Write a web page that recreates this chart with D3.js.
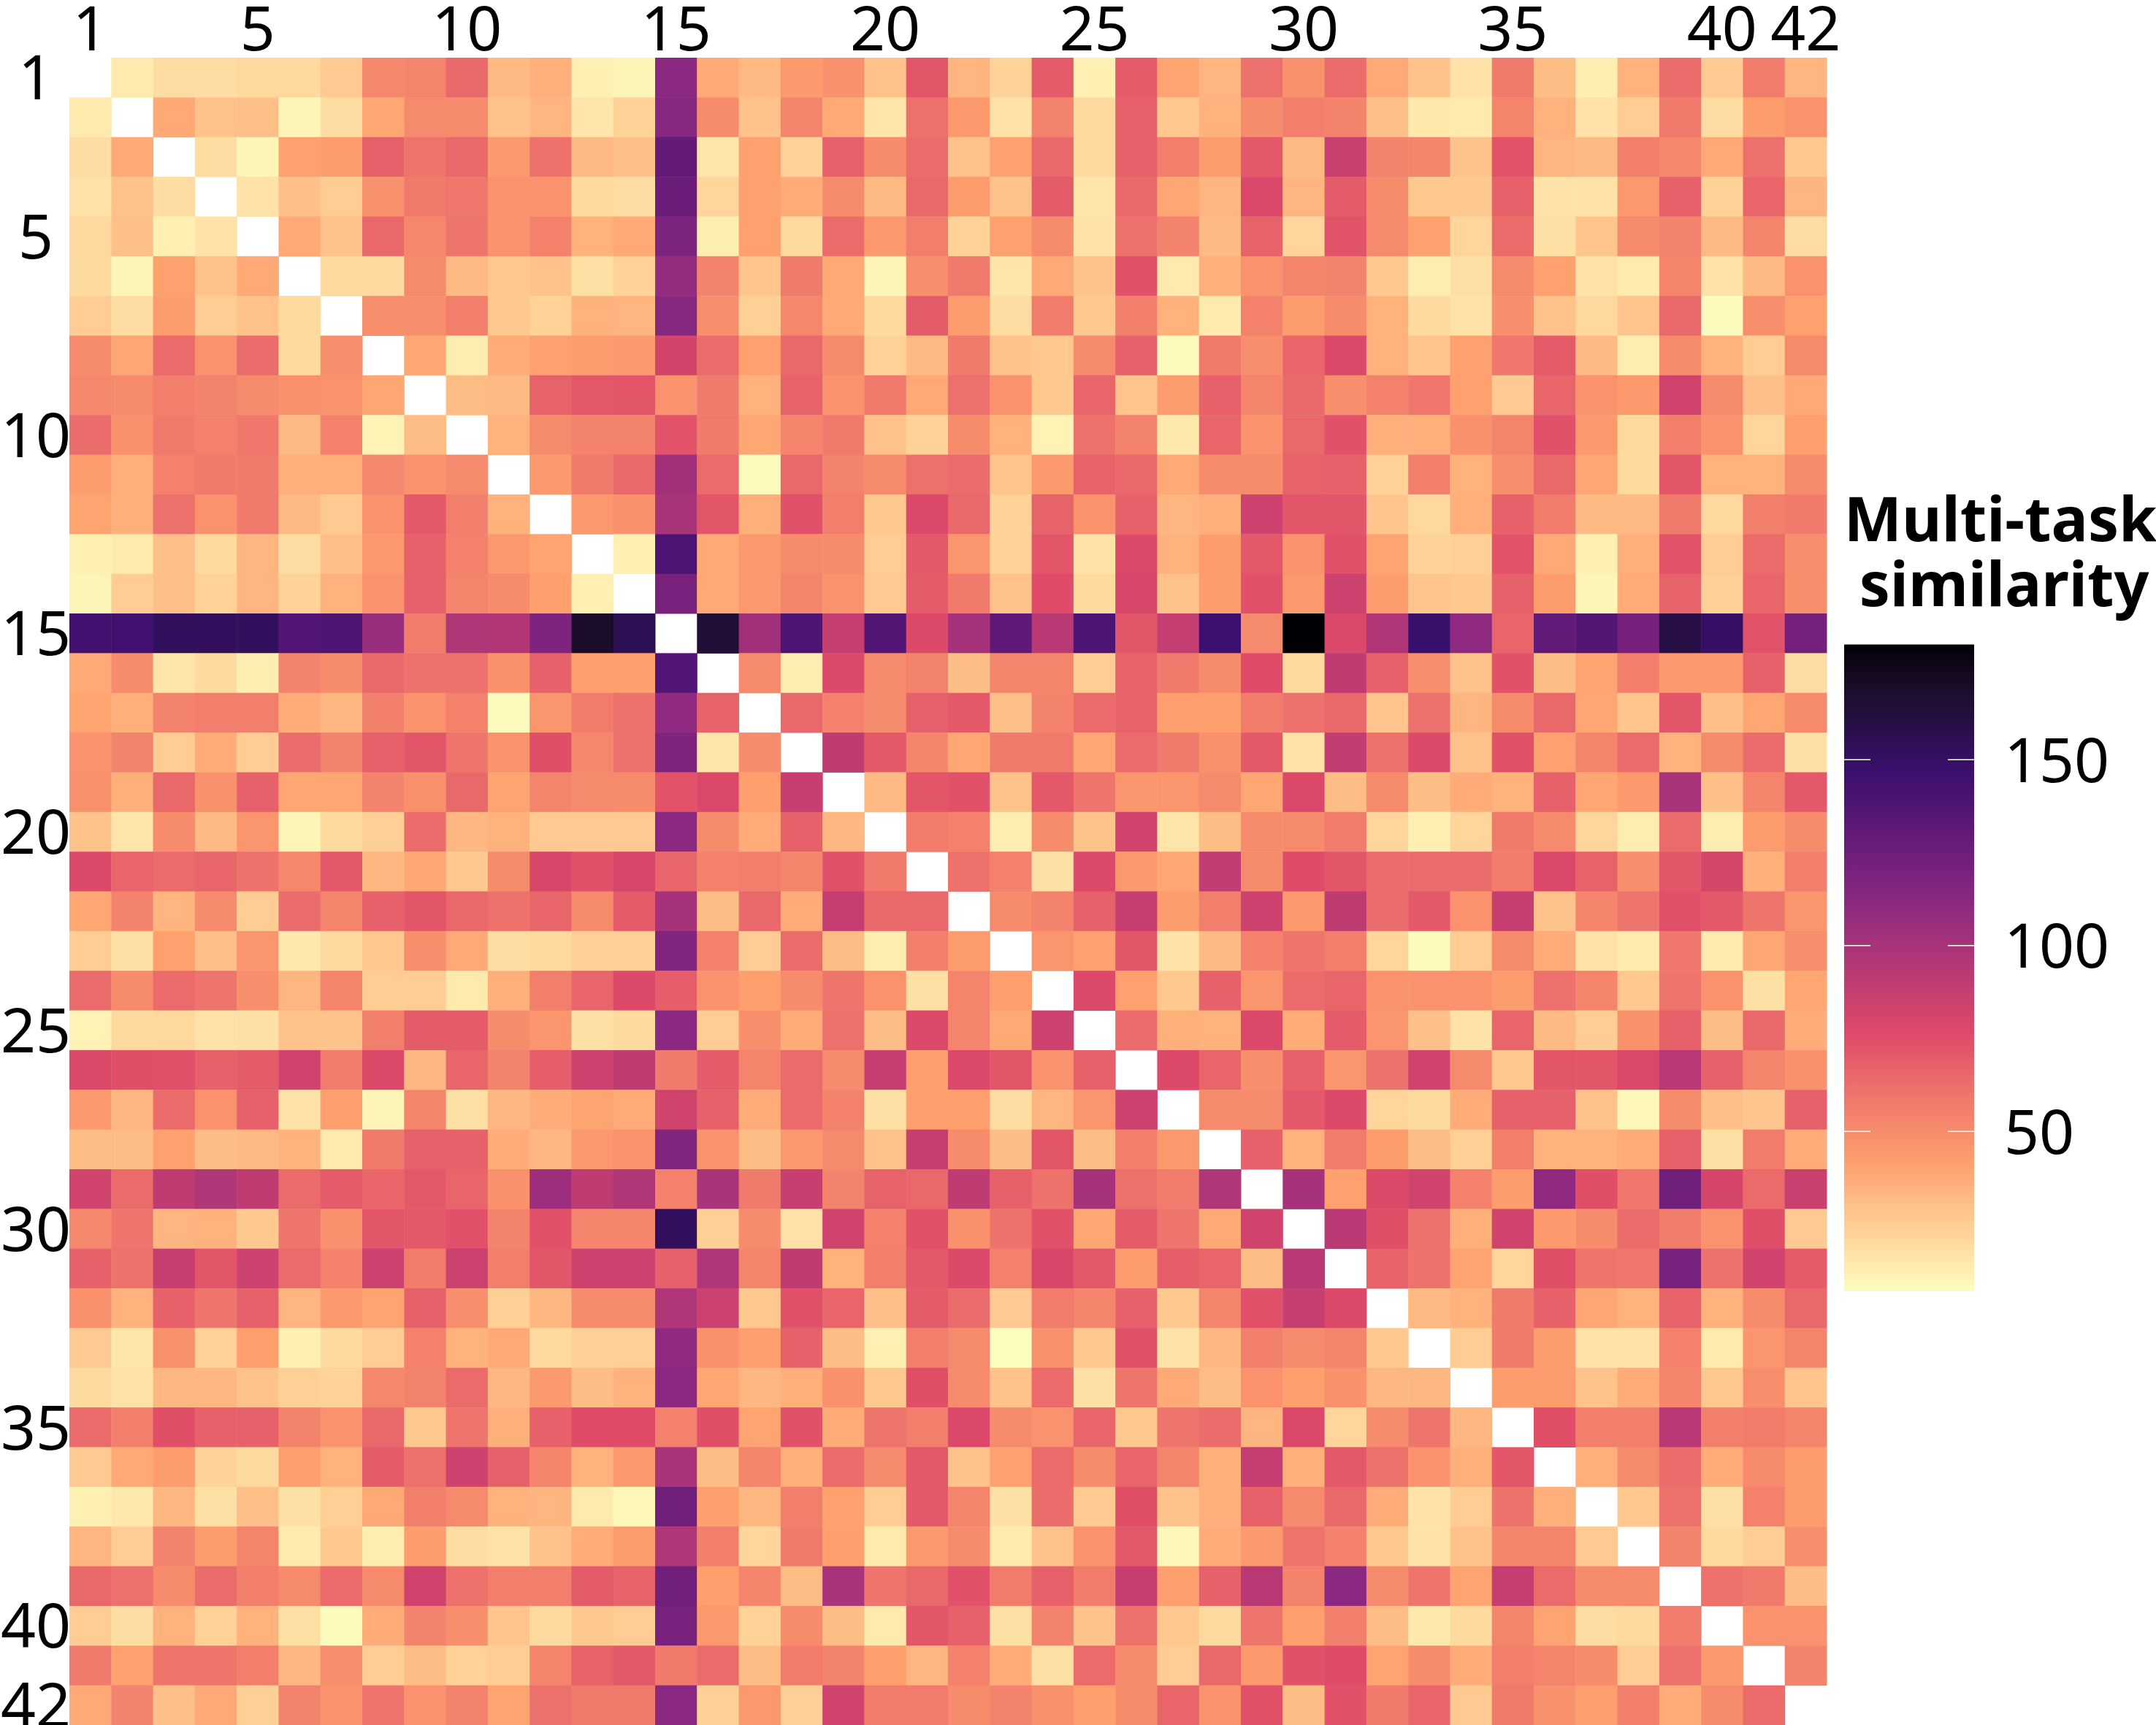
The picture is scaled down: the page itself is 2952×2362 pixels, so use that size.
<html>

<head>
    <style>
        body { margin: 0; background: white; }
        text { font-family: "Noto Sans", sans-serif; fill: black; }
        .tick text { font-size: 84px; }
        .legendTitle { font-size: 84px; font-weight: 700; text-anchor: middle; }
    </style>
</head>

<body>
    <script src="https://d3js.org/d3.v7.min.js"></script>
    <script>
        var width = 2952, height = 2362;

        var tasks = d3.range(1, 43);
        var tickLabels = [1, 5, 10, 15, 20, 25, 30, 35, 40, 42];
        var legendTicks = [50, 100, 150];
        var legendRange = [7, 181];
        // six magma stops, light to dark
        var palette = ["#FCFDBF", "#FE9F6D", "#DE4968", "#8C2981", "#3B0F70", "#000004"];

        // task 15 stands out, its row and its column are kept on their own
        var row15 = [144,144,152,152,152,137,139,106,57,97,95,117,169,155,null,165,103,139,88,136,77,101,131,93,139,72,88,146,51,181,78,96,148,110,66,130,136,121,159,149,73,122];
        var col15 = [112,114,129,126,118,108,114,82,47,73,103,99,139,120,null,137,110,117,73,112,66,101,116,69,112,58,83,116,55,152,68,97,110,112,55,99,124,97,124,120,58,112];

        // right of the diagonal, one line per task (task 15 skipped)
        var upper = [
            [14,19,19,21,21,26,52,53,65,32,36,12,10,38,32,44,48,29,72,34,23,70,12,70,40,34,62,48,64,38,29,17,58,31,13,35,63,26,57,34],
            [38,29,30,10,19,39,51,51,29,34,16,23,50,29,53,38,16,62,44,17,54,20,68,27,35,50,56,54,30,15,14,53,35,17,25,58,19,43,47],
            [19,10,41,43,68,60,65,44,61,32,30,16,41,23,68,50,63,29,41,65,20,68,56,43,71,32,86,54,53,29,73,34,32,56,52,38,62,27],
            [17,30,25,48,58,59,47,47,20,19,22,41,37,50,32,65,43,29,70,16,65,39,34,78,34,70,50,27,27,68,17,17,45,68,23,66,34],
            [38,29,65,52,60,47,55,35,38,13,41,20,64,45,56,23,41,50,17,62,54,32,67,22,73,51,41,22,63,18,28,50,54,32,53,19],
            [20,20,51,32,27,29,18,23,54,28,58,38,10,49,58,16,38,29,74,14,36,47,53,54,27,13,18,51,41,17,14,53,17,32,47],
            [49,49,56,27,23,35,34,49,24,52,38,20,70,43,19,57,27,56,35,14,55,43,50,35,20,17,49,29,21,28,65,8,49,41],
            [39,13,37,41,43,44,63,41,65,51,23,32,58,29,27,51,68,8,58,49,66,77,35,28,41,59,70,32,13,50,35,25,51],
            [31,32,67,71,72,58,35,67,47,58,38,62,47,27,66,28,43,68,53,65,49,55,59,41,26,66,47,44,83,51,30,38],
            [35,51,54,54,58,39,53,58,29,23,50,35,11,61,54,15,66,47,65,74,36,36,48,53,74,44,21,56,47,22,42],
            [44,58,65,64,8,65,54,50,62,63,28,44,67,65,38,50,50,67,68,23,56,35,49,65,39,20,72,35,35,50],
            [45,48,72,36,74,56,27,78,65,23,67,47,68,34,36,84,72,72,28,21,36,68,57,32,32,58,21,56,58],
            [12,38,45,50,50,25,71,46,23,72,17,77,35,43,71,47,74,40,23,24,73,38,12,36,73,25,64,49],
            [38,45,53,47,26,70,58,29,76,20,79,29,43,74,45,84,43,28,27,68,43,10,37,67,24,66,49],
            [],
            [51,13,77,51,54,31,53,53,25,67,58,50,76,21,90,68,49,29,74,31,40,56,45,44,68,19],
            [65,55,51,68,71,30,54,64,67,42,42,57,62,65,28,62,34,51,65,39,28,72,30,39,51],
            [90,71,53,39,58,58,39,64,58,48,71,17,89,61,77,29,74,41,53,64,35,51,63,18],
            [32,72,74,29,71,60,46,46,51,39,78,31,51,31,37,35,68,39,44,100,30,53,71],
            [57,55,13,50,29,83,16,31,50,51,57,22,12,22,58,51,22,13,64,13,43,50],
            [61,55,18,77,45,39,89,51,76,72,63,63,63,57,78,67,49,72,80,36,56],
            [50,54,68,87,43,56,84,44,90,63,71,47,87,29,53,60,74,71,60,46],
            [46,41,72,17,32,55,60,56,22,8,25,51,37,17,14,59,14,39,49],
            [77,41,27,68,46,63,66,47,47,47,43,61,53,27,60,47,18,39],
            [64,36,35,77,37,70,46,30,17,66,32,25,48,68,31,65,37],
            [77,66,49,68,46,61,83,51,27,72,72,78,93,68,53,48],
            [50,50,71,77,22,20,37,68,68,29,9,50,30,28,68],
            [68,35,57,43,31,24,56,35,35,37,68,18,57,37],
            [101,41,77,83,55,43,110,75,59,124,80,64,86],
            [93,75,61,36,83,44,50,64,57,47,75,26],
            [67,61,40,22,75,60,59,120,61,83,70],
            [32,35,58,68,39,35,67,35,50,65],
            [25,58,43,17,17,55,14,46,53],
            [43,43,29,37,53,27,49,28],
            [75,56,56,93,56,57,53],
            [36,51,63,37,50,43],
            [27,61,18,55,43],
            [54,20,25,49],
            [61,58,31],
            [47,47],
            [54],
            []
        ];

        // left of the diagonal, one line per task (task 15 skipped)
        var lower = [
            [],
            [14],
            [19,38],
            [17,29,19],
            [21,30,12,17],
            [20,10,41,29,38],
            [25,19,43,25,29,20],
            [50,39,64,47,63,20,49],
            [52,51,56,54,51,48,47,39],
            [63,48,58,55,59,32,55,11,31],
            [43,36,55,58,58,36,36,52,47,51],
            [40,36,61,47,58,32,26,47,71,56,35],
            [12,14,30,20,34,19,30,45,68,55,45,40],
            [10,25,30,23,34,23,35,47,68,53,50,42,12],
            [],
            [38,50,16,20,13,54,50,65,61,61,48,68,42,42],
            [40,36,54,56,56,37,33,56,47,55,8,46,57,61,67],
            [47,54,25,37,25,63,54,68,72,60,47,75,52,61,16,50],
            [48,36,65,48,68,39,39,54,48,65,40,53,51,50,78,42,87],
            [29,16,50,32,46,10,20,24,63,33,35,26,26,26,50,37,68,33],
            [77,66,64,66,61,52,71,33,39,27,50,79,74,79,55,56,53,74,58],
            [39,54,34,51,25,63,53,68,72,65,61,66,50,70,31,65,37,88,65,65],
            [25,18,41,30,46,15,20,27,49,38,19,20,24,24,55,25,63,31,13,56,43],
            [63,50,64,60,49,34,53,25,25,14,36,56,66,77,47,42,50,60,47,18,53,42],
            [11,20,21,17,18,29,29,56,70,70,50,46,18,20,25,49,37,62,31,77,53,38,84],
            [77,75,74,68,70,83,57,77,33,66,54,69,84,90,70,53,64,50,88,42,78,72,47,68],
            [45,33,64,47,68,17,42,10,53,18,33,37,40,37,68,37,64,55,18,42,42,19,34,46,84],
            [31,31,41,31,32,35,14,58,68,68,37,33,45,47,47,31,45,51,29,87,50,31,72,31,56,45],
            [83,64,90,97,90,64,70,66,71,66,48,105,90,97,99,58,87,54,67,65,90,68,61,101,61,57,97],
            [52,60,34,35,27,60,48,72,71,74,54,74,53,53,24,50,17,83,55,74,48,61,74,39,70,60,38,83],
            [68,61,87,72,84,64,55,84,57,85,56,72,84,84,96,53,90,35,56,71,77,55,79,71,43,69,66,31,93],
            [48,35,68,60,68,34,45,40,68,49,24,33,50,50,85,27,74,66,30,70,63,26,57,53,68,27,53,74,87,77],
            [26,16,48,23,42,12,20,25,55,35,38,20,24,24,48,42,68,31,12,56,51,7,48,27,74,17,33,56,51,53,27],
            [20,17,33,33,29,24,23,52,54,64,33,44,31,35,39,33,36,48,27,75,50,29,64,18,60,38,31,47,42,48,33,33],
            [64,56,75,68,68,54,47,65,27,60,36,68,76,76,75,40,74,37,60,56,78,51,47,66,27,60,63,34,78,22,50,60,33],
            [26,38,43,23,20,42,35,70,61,84,68,53,35,44,31,53,36,64,51,71,29,41,64,50,66,53,36,88,36,71,61,47,36,72],
            [12,15,33,18,30,18,24,38,56,51,35,34,14,9,42,33,56,41,25,71,53,18,63,26,75,29,36,68,51,65,37,17,25,61,36],
            [34,25,54,43,53,14,27,13,43,19,17,29,37,43,56,22,58,42,14,45,50,14,29,47,71,9,37,44,60,55,27,17,29,53,53,26],
            [65,62,50,63,56,51,64,51,83,61,56,56,70,67,42,53,31,99,60,65,74,57,68,57,87,42,68,93,54,112,51,60,40,88,64,50,51],
            [25,19,35,23,35,18,8,37,54,49,28,20,27,25,45,23,50,31,14,72,68,18,54,29,61,27,20,60,42,56,31,15,20,53,40,19,20,57],
            [58,41,60,60,56,33,49,25,31,23,25,53,67,71,64,31,57,54,42,34,55,37,18,64,50,25,65,44,74,76,40,50,37,56,53,50,25,62,44],
            [38,54,30,38,24,54,47,60,47,54,40,62,58,58,24,45,24,83,57,57,50,54,48,42,50,66,47,74,31,74,58,66,26,58,48,42,56,37,50,64]
        ];

        // flat list of cells, the diagonal stays empty
        var cells = [];
        tasks.forEach(function (r, i) {
            var u = 0, l = 0;
            tasks.forEach(function (c, j) {
                var value;
                if (i == 14) value = row15[j];
                else if (j == 14) value = col15[i];
                else if (j > i) value = upper[i][u++];
                else if (j < i) value = lower[i][l++];
                if (value != null) cells.push({ row: r, col: c, value: value });
            });
        });

        var svg = d3.select("body")
            .append("svg")
            .attr("width", width)
            .attr("height", height);

        var x = d3.scaleBand().domain(tasks).range([95, 2501]);
        var y = d3.scaleBand().domain(tasks).range([79, 2362]);

        var colorStops = palette.map(function (d, i) {
            return legendRange[0] + i * (legendRange[1] - legendRange[0]) / (palette.length - 1);
        });
        var color = d3.scaleLinear()
            .domain(colorStops)
            .range(palette)
            .interpolate(d3.interpolateLab);

        svg.append("g")
            .selectAll("rect")
            .data(cells)
            .enter().append("rect")
            .attr("x", function (d) { return x(d.col); })
            .attr("y", function (d) { return y(d.row); })
            .attr("width", x.bandwidth() + .5)
            .attr("height", y.bandwidth() + .5)
            .attr("fill", function (d) { return color(d.value); });

        var topAxis = svg.append("g")
            .attr("transform", "translate(0,79)")
            .call(d3.axisTop(x).tickValues(tickLabels).tickSize(0).tickPadding(10));
        topAxis.select(".domain").remove();

        var leftAxis = svg.append("g")
            .attr("transform", "translate(95,0)")
            .call(d3.axisLeft(y).tickValues(tickLabels).tickSize(0));
        leftAxis.select(".domain").remove();
        // row labels are centred in the margin
        leftAxis.selectAll("text")
            .attr("x", -46)
            .attr("dy", ".36em")
            .attr("text-anchor", "middle");

        // legend
        var legendY = d3.scaleLinear().domain(legendRange).range([1768, 882.5]);
        var barLeft = 2525, barRight = 2703;

        var gradient = svg.append("defs").append("linearGradient")
            .attr("id", "legendGradient")
            .attr("x1", 0).attr("x2", 0).attr("y1", 1).attr("y2", 0);
        gradient.selectAll("stop")
            .data(d3.range(0, 1.001, .02))
            .enter().append("stop")
            .attr("offset", function (d) { return d; })
            .attr("stop-color", function (d) { return color(legendRange[0] + d * (legendRange[1] - legendRange[0])); });

        svg.append("rect")
            .attr("x", barLeft)
            .attr("y", legendY(legendRange[1]))
            .attr("width", barRight - barLeft)
            .attr("height", legendY(legendRange[0]) - legendY(legendRange[1]))
            .attr("fill", "url(#legendGradient)");

        var legendAxis = svg.append("g")
            .attr("transform", "translate(" + barRight + ",0)")
            .call(d3.axisRight(legendY).tickValues(legendTicks).tickSize(0).tickPadding(41));
        legendAxis.select(".domain").remove();
        legendAxis.selectAll("text").attr("dy", ".36em");

        legendTicks.forEach(function (t) {
            [[barLeft, barLeft + 36], [barRight - 36, barRight]].forEach(function (seg) {
                svg.append("line")
                    .attr("x1", seg[0]).attr("x2", seg[1])
                    .attr("y1", legendY(t)).attr("y2", legendY(t))
                    .attr("stroke", "white")
                    .attr("stroke-width", 1.5);
            });
        });

        svg.append("text").attr("class", "legendTitle").attr("x", 2739).attr("y", 741).text("Multi-task");
        svg.append("text").attr("class", "legendTitle").attr("x", 2744).attr("y", 830).text("similarity");
    </script>
</body>

</html>
